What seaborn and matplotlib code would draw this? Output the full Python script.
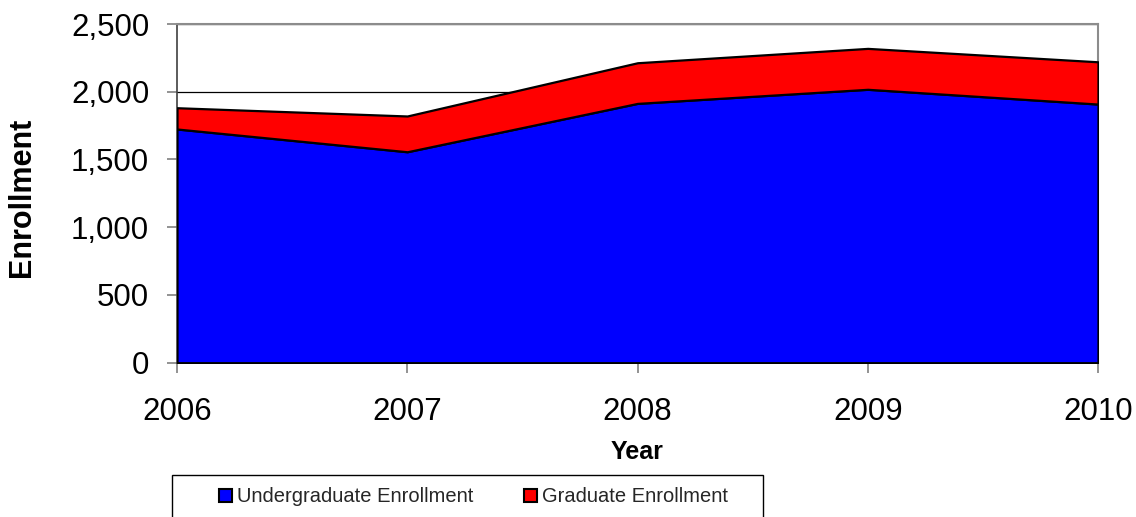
import numpy as np
import pandas as pd
import seaborn as sns
from matplotlib import pyplot as plt
from matplotlib.patches import Rectangle, Patch
from matplotlib.ticker import FuncFormatter, MultipleLocator

# Enrollment data
years = [2006, 2007, 2008, 2009, 2010]
undergrad = [1725, 1557, 1914, 2018, 1909]
graduate = [157, 264, 300, 302, 312]
series_names = ['Undergraduate Enrollment', 'Graduate Enrollment']
series_colors = ['#0000FF', '#FF0000']

df = pd.DataFrame({'Year': years, series_names[0]: undergrad, series_names[1]: graduate})

sns.set_theme(style='white')
plt.rcParams['font.family'] = ['Liberation Sans', 'DejaVu Sans']

fig = plt.figure(figsize=(11.36, 5.17), dpi=100)
ax = fig.add_axes([177 / 1136, 1 - 362.7 / 517, 921 / 1136, 338.7 / 517])

# Stacked area with black outlines
ax.stackplot(df['Year'], df[series_names[0]], df[series_names[1]],
             colors=series_colors, edgecolor='black', linewidth=1.6, zorder=3)

ax.set_xlim(2006, 2010)
ax.set_ylim(0, 2500)
ax.set_xticks(years)
ax.yaxis.set_major_locator(MultipleLocator(500))
ax.yaxis.set_major_formatter(FuncFormatter(lambda v, p: f'{int(v):,}'))

ax.yaxis.grid(True, color='black', linewidth=0.9, zorder=0)
ax.xaxis.grid(False)
ax.set_axisbelow(True)

for side in ['top', 'right']:
    ax.spines[side].set_color('#8c8c8c')
    ax.spines[side].set_linewidth(1.5)
for side in ['left', 'bottom']:
    ax.spines[side].set_color('#404040')
    ax.spines[side].set_linewidth(1.2)

ax.tick_params(axis='both', which='major', direction='out', length=7, width=1.2,
               color='#808080', labelsize=22.5, labelcolor='black', pad=13,
               left=True, bottom=True)
ax.tick_params(axis='x', pad=18)

ax.set_xlabel('Year', fontsize=18, fontweight='bold', color='black')
ax.set_ylabel('Enrollment', fontsize=22, fontweight='bold', color='black')
ax.xaxis.set_label_coords(0.5, -0.228)
ax.yaxis.set_label_coords(-0.152, 0.488)

# Legend box running off the bottom edge
fig.patches.append(Rectangle((172 / 1136, -0.05), (763 - 172) / 1136, 0.05 + (517 - 475) / 517,
                             transform=fig.transFigure, facecolor='white', edgecolor='black',
                             linewidth=1.0, zorder=1))
handles = [Patch(facecolor=c, edgecolor='black', linewidth=1.5) for c in series_colors]
fig.legend(handles, series_names, loc='center left', bbox_to_anchor=(219 / 1136, 1 - 497 / 517),
           ncol=2, frameon=False, fontsize=14.5, handlelength=0.65, handleheight=0.65,
           handletextpad=0.25, columnspacing=2.5, borderpad=0, borderaxespad=0)

fig.savefig('out.png', dpi=100)
plt.close()
